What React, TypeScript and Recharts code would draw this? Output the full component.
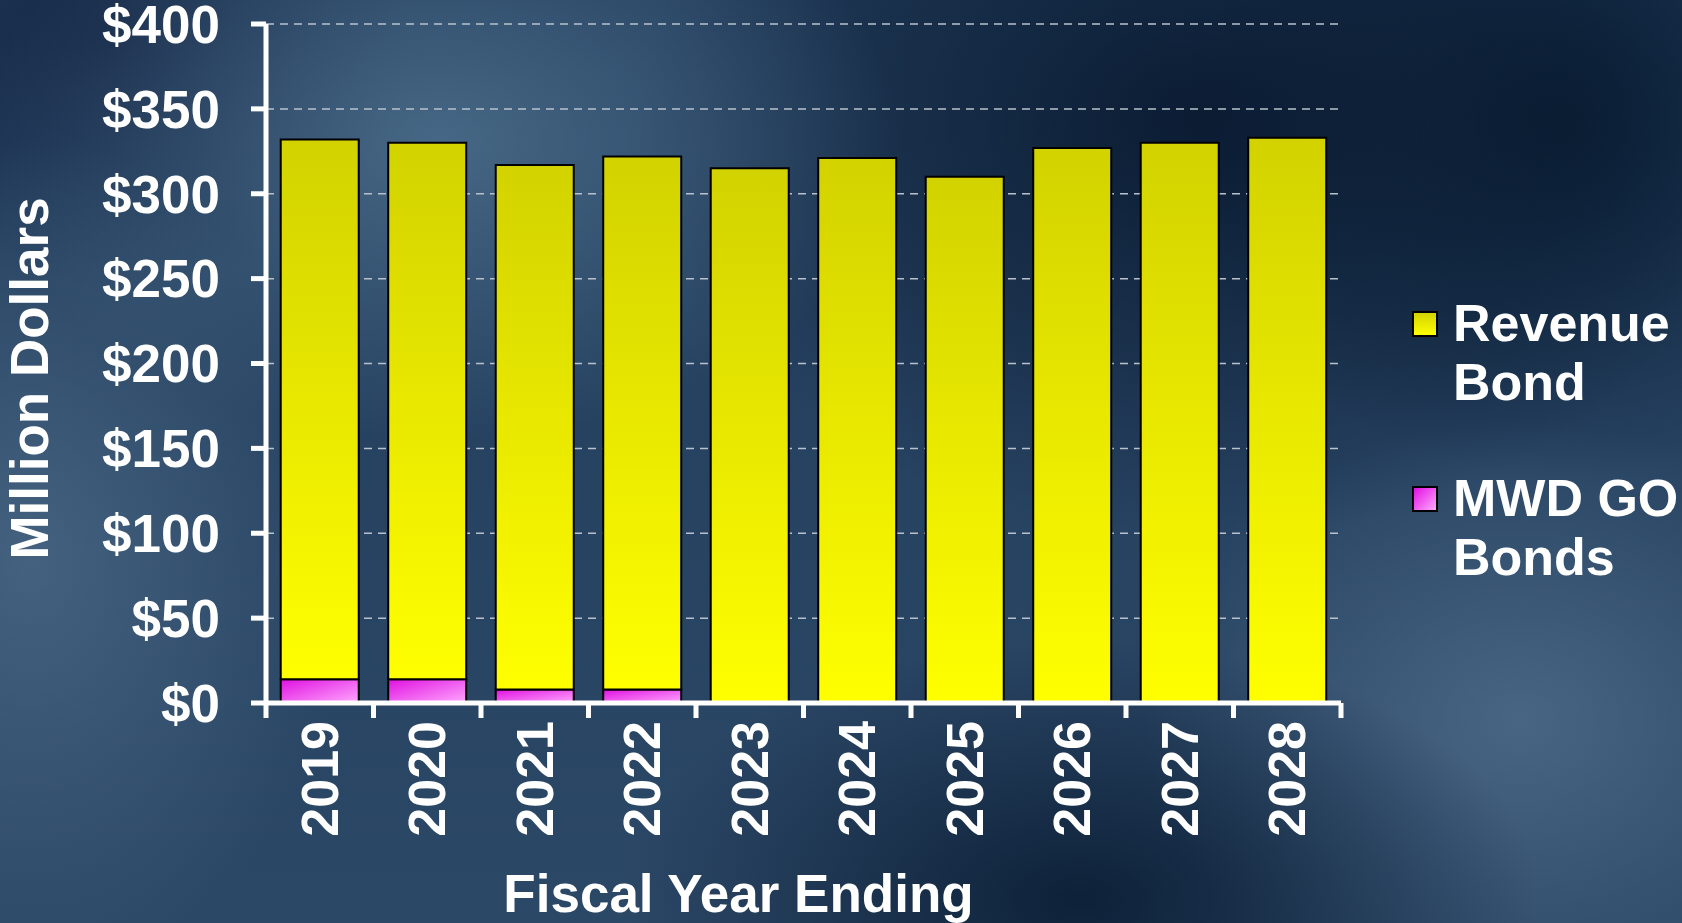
import React from 'react';
import { BarChart, Bar, XAxis, YAxis, CartesianGrid, Label } from 'recharts';

const years = ['2019', '2020', '2021', '2022', '2023', '2024', '2025', '2026', '2027', '2028'];
const mwdGoBonds = [14, 14, 8, 8, 0, 0, 0, 0, 0, 0];
const revenueBond = [318, 316, 309, 314, 315, 321, 310, 327, 330, 333];
const yTicks = [0, 50, 100, 150, 200, 250, 300, 350, 400];
const seriesNames = ['Revenue Bond', 'MWD GO Bonds'];
const yTitle = 'Million Dollars';
const xTitle = 'Fiscal Year Ending';

const data = years.map((y, i) => ({ year: y, mwd: mwdGoBonds[i], revenue: revenueBond[i] }));

const W = 1682;
const H = 923;
const MARGIN = { top: 24, right: 341, bottom: 0, left: 0 };
const Y_AXIS_W = 266;
const X_AXIS_H = 220;
const PLOT_W = W - MARGIN.left - MARGIN.right - Y_AXIS_W;
const AXIS_Y = H - MARGIN.bottom - X_AXIS_H;
const X_TICK_SIZE = 15;
const X_TICK_MARGIN = 3;
const FONT = '"Liberation Sans", Arial, Helvetica, sans-serif';

const XTick = (props: any) => {
  const { x, payload, index } = props;
  const bw = PLOT_W / years.length;
  const ly = AXIS_Y + X_TICK_SIZE + X_TICK_MARGIN;
  return (
    <g>
      <line x1={x - bw / 2} x2={x - bw / 2} y1={AXIS_Y} y2={AXIS_Y + X_TICK_SIZE} stroke="#fff" strokeWidth={5} />
      {index === years.length - 1 && (
        <line x1={x + bw / 2} x2={x + bw / 2} y1={AXIS_Y} y2={AXIS_Y + X_TICK_SIZE} stroke="#fff" strokeWidth={5} />
      )}
      <text
        x={x}
        y={ly}
        transform={`rotate(-90 ${x} ${ly})`}
        textAnchor="end"
        dominantBaseline="central"
        fill="#fff"
        fontSize={52}
        fontWeight="bold"
        fontFamily={FONT}
      >
        {payload.value}
      </text>
    </g>
  );
};

export default function App() {
  return (
    <div
      style={{
        position: 'absolute',
        left: 0,
        top: 0,
        width: W,
        height: H,
        overflow: 'hidden',
        fontFamily: FONT,
        background: [
          'radial-gradient(ellipse 460px 300px at 440px 140px, rgba(85,120,150,0.7), rgba(85,120,150,0) 100%)',
          'radial-gradient(ellipse 320px 420px at 30px 560px, rgba(80,110,140,0.7), rgba(80,110,140,0) 100%)',
          'radial-gradient(ellipse 560px 420px at 1200px 120px, rgba(8,24,46,0.9), rgba(8,24,46,0) 100%)',
          'radial-gradient(ellipse 380px 360px at 1560px 120px, rgba(8,28,50,0.95), rgba(8,28,50,0) 100%)',
          'radial-gradient(ellipse 460px 260px at 1080px 900px, rgba(8,26,48,0.85), rgba(8,26,48,0) 100%)',
          'radial-gradient(ellipse 380px 300px at 1520px 720px, rgba(85,115,145,0.7), rgba(85,115,145,0) 100%)',
          'radial-gradient(ellipse 300px 250px at 110px 40px, rgba(15,30,60,0.7), rgba(15,30,60,0) 100%)',
          'linear-gradient(180deg, #223d5c 0%, #2c4867 100%)',
        ].join(', '),
      }}
    >
      <BarChart width={W} height={H} data={data} margin={MARGIN} barCategoryGap="13.7%">
        <defs>
          <linearGradient id="gYellow" x1="0" y1="0" x2="0" y2="1">
            <stop offset="0%" stopColor="#d2d200" />
            <stop offset="100%" stopColor="#ffff00" />
          </linearGradient>
          <linearGradient id="gPink" x1="0" y1="0" x2="1" y2="1">
            <stop offset="0%" stopColor="#e010e0" />
            <stop offset="100%" stopColor="#ffa8ff" />
          </linearGradient>
        </defs>
        <CartesianGrid vertical={false} stroke="#b9c2cc" strokeDasharray="8 6" strokeWidth={1.5} />
        <XAxis
          dataKey="year"
          height={X_AXIS_H}
          axisLine={{ stroke: '#fff', strokeWidth: 5 }}
          tickLine={false}
          tickSize={X_TICK_SIZE}
          tickMargin={X_TICK_MARGIN}
          tick={<XTick />}
          interval={0}
        >
          <Label
            content={(p: any) => {
              const vb = p.viewBox;
              return (
                <text
                  x={vb.x + vb.width / 2 - 65}
                  y={vb.y + 190}
                  textAnchor="middle"
                  dominantBaseline="central"
                  fill="#fff"
                  fontSize={53}
                  fontWeight="bold"
                  fontFamily={FONT}
                >
                  {xTitle}
                </text>
              );
            }}
          />
        </XAxis>
        <YAxis
          width={Y_AXIS_W}
          domain={[0, 400]}
          ticks={yTicks}
          interval={0}
          axisLine={{ stroke: '#fff', strokeWidth: 5 }}
          tickLine={{ stroke: '#fff', strokeWidth: 5 }}
          tickSize={15}
          tickMargin={31}
          tickFormatter={(v: number) => `$${v}`}
          tick={{ fill: '#fff', fontSize: 53, fontWeight: 'bold', fontFamily: FONT }}
        >
          <Label
            content={(p: any) => {
              const vb = p.viewBox;
              const cx = vb.x + 29;
              const cy = vb.y + vb.height / 2 + 15;
              return (
                <text
                  x={cx}
                  y={cy}
                  transform={`rotate(-90 ${cx} ${cy})`}
                  textAnchor="middle"
                  dominantBaseline="central"
                  fill="#fff"
                  fontSize={53}
                  fontWeight="bold"
                  fontFamily={FONT}
                >
                  {yTitle}
                </text>
              );
            }}
          />
        </YAxis>
        <Bar dataKey="mwd" stackId="a" fill="url(#gPink)" stroke="#000" strokeWidth={2} isAnimationActive={false} />
        <Bar dataKey="revenue" stackId="a" fill="url(#gYellow)" stroke="#000" strokeWidth={2} isAnimationActive={false} />
      </BarChart>
      {seriesNames.map((name, i) => (
        <div key={name} style={{ position: 'absolute', left: 1412, top: i === 0 ? 294 : 469 }}>
          <div
            style={{
              position: 'absolute',
              left: 0,
              top: 17,
              width: 22,
              height: 22,
              border: '2px solid #000',
              background: i === 0
                ? 'linear-gradient(180deg, #d2d200, #ffff00)'
                : 'linear-gradient(135deg, #e010e0, #ffa8ff)',
            }}
          />
          <div
            style={{
              position: 'absolute',
              left: 41,
              top: 0,
              width: 236,
              color: '#fff',
              fontSize: 52,
              fontWeight: 'bold',
              lineHeight: '59px',
              whiteSpace: 'normal',
            }}
          >
            {name}
          </div>
        </div>
      ))}
    </div>
  );
}
